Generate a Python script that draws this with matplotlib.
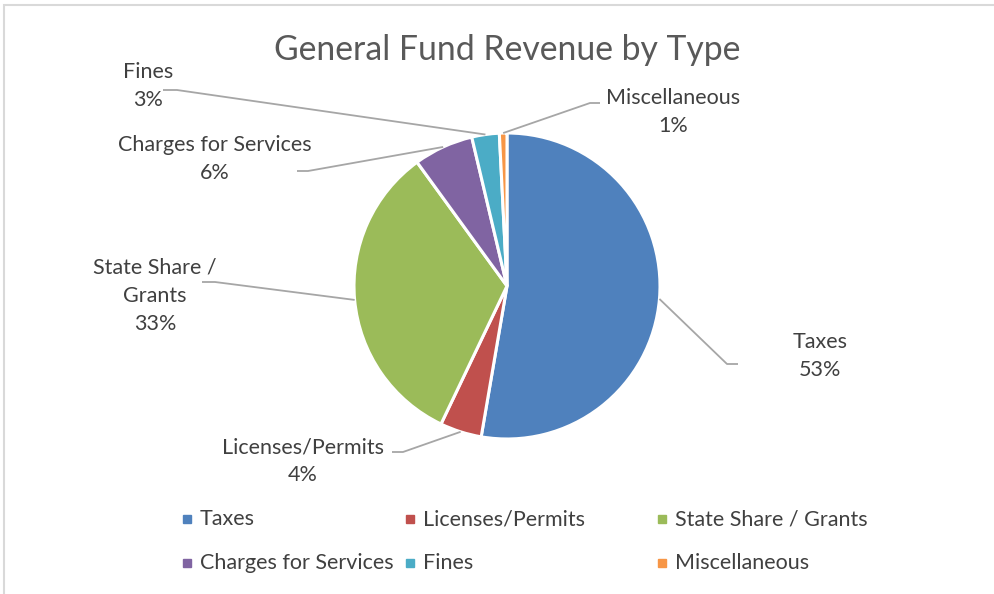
import numpy as np
import matplotlib
matplotlib.use("Agg")
import matplotlib.pyplot as plt
from matplotlib.patches import Rectangle

plt.rcParams['font.family'] = ['Lato', 'DejaVu Sans']

categories = ['Taxes', 'Licenses/Permits', 'State Share / Grants',
              'Charges for Services', 'Fines', 'Miscellaneous']
values = [52.7, 4.4, 32.9, 6.3, 2.9, 0.8]
colors = ['#4F81BD', '#C0504D', '#9BBB59', '#8064A2', '#4BACC6', '#F79646']
# data label text (split lines) for each slice
label_lines = ['Taxes', 'Licenses/Permits', 'State Share /\nGrants',
               'Charges for Services', 'Fines', 'Miscellaneous']

W, H = 995, 594
fig = plt.figure(figsize=(W / 100, H / 100), dpi=100)
ax = fig.add_axes([0, 0, 1, 1])

cx, cy, r = 507, 308, 153
wedges, _ = ax.pie(values, colors=colors, startangle=90, counterclock=False,
                   center=(cx, cy), radius=r, frame=True,
                   wedgeprops=dict(edgecolor='white', linewidth=2.2))
ax.set_xlim(0, W)
ax.set_ylim(0, H)
ax.set_aspect('auto')
ax.axis('off')

# label positions (text centre) and elbow end of the leader lines
label_pos = [(820, 238), (303, 133), (155, 298), (215, 435), (148, 508), (673, 482)]
elbows = [((727, 230), (738, 230)),
          ((403, 142), (392, 142)),
          ((215, 312), (202, 312)),
          ((308, 423), (297, 423)),
          ((177, 504), (163, 504)),
          ((590, 491), (600, 491))]

total = sum(values)
txt_color = '#404040'
for w, v, lab, pos, elb in zip(wedges, values, label_lines, label_pos, elbows):
    mid = np.deg2rad((w.theta1 + w.theta2) / 2)
    ax0 = cx + r * np.cos(mid)
    ay0 = cy + r * np.sin(mid)
    xs = [ax0, elb[0][0], elb[1][0]]
    ys = [ay0, elb[0][1], elb[1][1]]
    ax.plot(xs, ys, color='#A6A6A6', lw=1.3, solid_capstyle='butt', zorder=1)
    pct = int(round(v / total * 100))
    ax.text(pos[0], pos[1], f"{lab}\n{pct}%", ha='center', va='center',
            fontsize=15.5, color=txt_color, linespacing=1.5)

ax.text(507, 594 - 50, 'General Fund Revenue by Type', ha='center', va='center',
        fontsize=24.3, color='#595959')

# legend rows
leg_x = [187, 410, 662, 187, 410, 662]
leg_y = [594 - 519] * 3 + [594 - 563] * 3
for name, c, lx, ly in zip(categories, colors, leg_x, leg_y):
    ax.plot([lx], [ly], marker='s', ms=6, color=c, mec=c, ls='none')
    ax.text(lx + 13, ly, name, ha='left', va='center', fontsize=15.5,
            color=txt_color)

# chart area border
fig.patches.append(Rectangle((4, -10), 1100, H - 5 + 10, transform=None,
                             fill=False, edgecolor='#D9D9D9', lw=1.5))

fig.savefig('out.png', dpi=100)
